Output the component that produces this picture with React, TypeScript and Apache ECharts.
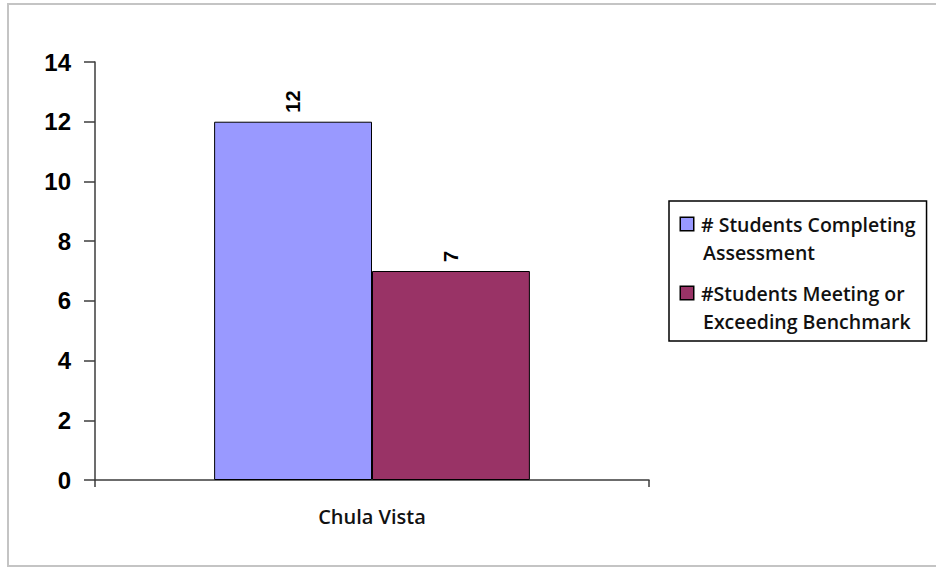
import React, { useEffect, useRef } from "react";
import * as echarts from "echarts";

const categories = ["Chula Vista"];
const seriesNames = ["# Students Completing Assessment", "#Students Meeting or Exceeding Benchmark"];
const legendLines = [
  ["# Students Completing", "Assessment"],
  ["#Students Meeting or", "Exceeding Benchmark"],
];
const completing = [12];
const meeting = [7];
const seriesColors = ["#9999FF", "#993366"];
const yTicks = { min: 0, max: 14, interval: 2 };

export default function App() {
  const ref = useRef<HTMLDivElement>(null);
  useEffect(() => {
    if (!ref.current) return;
    const chart = echarts.init(ref.current, null, { renderer: "svg" });
    const numFont = "'Liberation Sans', Arial, sans-serif";
    const txtFont = "'Open Sans', 'Noto Sans', sans-serif";
    const labelCfg = {
      show: true,
      position: "top",
      rotate: 90,
      align: "left",
      verticalAlign: "middle",
      distance: 9,
      fontFamily: numFont,
      fontWeight: "bold",
      fontSize: 20,
      color: "#000",
    };
    const rich: any = {
      t: { fontFamily: txtFont, fontSize: 19.5, fontWeight: 600, color: "#111", lineHeight: 28 },
      g: { width: 8, lineHeight: 28 },
      sp: { width: 22, lineHeight: 28 },
    };
    seriesColors.forEach((c, i) => {
      rich["sq" + i] = {
        width: 12,
        height: 12,
        backgroundColor: c,
        borderColor: "#000",
        borderWidth: 1.5,
        lineHeight: 28,
      };
    });
    chart.setOption({
      animation: false,
      graphic: [
        {
          type: "rect",
          shape: { x: 8, y: 4, width: 940, height: 562 },
          style: { fill: "none", stroke: "#c4c4c4", lineWidth: 2 },
          silent: true,
        },
      ],
      grid: { left: 95, right: 287, top: 62, bottom: 88 },
      legend: {
        left: 669,
        top: 201,
        orient: "vertical",
        padding: [13, 11, 10, 6],
        itemGap: 21,
        itemWidth: 0,
        itemHeight: 0,
        icon: "rect",
        borderColor: "#000",
        borderWidth: 1.5,
        data: seriesNames,
        formatter: (name: string) => {
          const i = seriesNames.indexOf(name);
          const [a, b] = legendLines[i];
          return `{sq${i}|}{g|}{t|${a}}\n{sp|}{t|${b}}`;
        },
        textStyle: { rich, color: "#111" },
      },
      xAxis: {
        type: "category",
        data: categories,
        boundaryGap: true,
        axisLine: { show: true, lineStyle: { color: "#3c3c3c", width: 1.5 } },
        axisTick: { show: true, length: 7, lineStyle: { color: "#3c3c3c", width: 1.5 } },
        axisLabel: { margin: 26, fontFamily: txtFont, fontSize: 20, fontWeight: 600, color: "#111" },
      },
      yAxis: {
        type: "value",
        min: yTicks.min,
        max: yTicks.max,
        interval: yTicks.interval,
        splitLine: { show: false },
        axisLine: { show: true, lineStyle: { color: "#3c3c3c", width: 1.5 } },
        axisTick: { show: true, length: 11, lineStyle: { color: "#3c3c3c", width: 1.5 } },
        axisLabel: { margin: 24, fontFamily: numFont, fontSize: 24, fontWeight: "bold", color: "#000" },
      },
      series: [
        {
          name: seriesNames[0],
          type: "bar",
          data: completing,
          barGap: "0%",
          barCategoryGap: "43%",
          itemStyle: { color: seriesColors[0], borderColor: "#000", borderWidth: 1 },
          label: labelCfg,
        },
        {
          name: seriesNames[1],
          type: "bar",
          data: meeting,
          barGap: "0%",
          barCategoryGap: "43%",
          itemStyle: { color: seriesColors[1], borderColor: "#000", borderWidth: 1 },
          label: labelCfg,
        },
      ],
    });
    return () => chart.dispose();
  }, []);
  return (
    <div
      ref={ref}
      style={{ position: "absolute", left: 0, top: 0, width: 936, height: 568, background: "#fff" }}
    />
  );
}
